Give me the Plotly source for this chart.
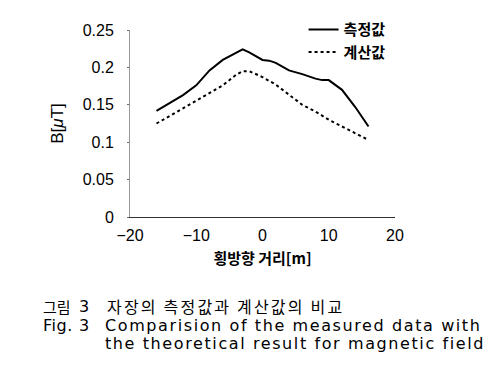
import plotly.graph_objects as go

x_meas = [-16, -12, -10, -8, -6, -4, -3, -2, 0, 1, 2, 4, 5, 6, 8, 9, 10, 12, 14, 16]
y_meas = [0.142, 0.163, 0.176, 0.196, 0.210, 0.219, 0.224, 0.220, 0.210, 0.209, 0.206,
          0.196, 0.194, 0.191, 0.185, 0.183, 0.183, 0.170, 0.147, 0.121]
x_calc = [-16, -12, -10, -8, -6, -4, -3, -2, 0, 2, 4, 6, 8, 10, 12, 14, 16]
y_calc = [0.125, 0.145, 0.156, 0.165, 0.176, 0.190, 0.195, 0.195, 0.187, 0.177, 0.163,
          0.150, 0.141, 0.130, 0.121, 0.112, 0.103]
x_ticks = [-20, -10, 0, 10, 20]
y_ticks = [0, 0.05, 0.1, 0.15, 0.2, 0.25]
y_tick_labels = ["0", "0.05", "0.1", "0.15", "0.2", "0.25"]

KFONT = "Noto Sans CJK KR"
AFONT = "Liberation Sans, Arial"
CFONT = "DejaVu Sans"

OFF = 8  # browser body margin
FW, FH = 502 - OFF, 377 - OFF

fig = go.Figure()
fig.add_trace(go.Scatter(x=x_meas, y=y_meas, mode="lines", name="측정값",
                         line=dict(color="black", width=2)))
fig.add_trace(go.Scatter(x=x_calc, y=y_calc, mode="lines", name="계산값",
                         line=dict(color="black", width=2, dash="dot")))

L, T, W, H = 130 - OFF, 30 - OFF, 265, 187
fig.update_layout(
    width=FW, height=FH,
    margin=dict(l=L, r=FW - L - W, t=T, b=FH - T - H, pad=0, autoexpand=False),
    paper_bgcolor="white", plot_bgcolor="white",
    showlegend=True,
    legend=dict(x=0.655, y=1.09, xanchor="left", yanchor="top",
                font=dict(family=KFONT, size=15, color="black", weight="bold"),
                bgcolor="rgba(0,0,0,0)", itemwidth=30, tracegroupgap=0),
    font=dict(family=AFONT, size=16, color="black"),
)
fig.update_xaxes(range=[-20, 20], tickvals=x_ticks, showgrid=False, zeroline=False,
                 showline=True, linecolor="#333", linewidth=1,
                 ticks="", tickfont=dict(size=16), ticklabelstandoff=4,
                 title=dict(text="횡방향 거리[m]",
                            font=dict(family=KFONT, size=15, weight="bold"), standoff=10))
fig.update_yaxes(range=[0, 0.25], tickvals=y_ticks, ticktext=y_tick_labels, showgrid=False,
                 zeroline=False, showline=True, linecolor="#999", linewidth=1,
                 ticks="outside", ticklen=2, tickcolor="#666", tickfont=dict(size=16),
                 ticklabelstandoff=10,
                 title=dict(text="B[<i>μ</i>T]", font=dict(size=17), standoff=14))

def px(xp):
    return (xp - OFF - L) / W

def py(yp):
    return (T + H - (yp - OFF)) / H

def spaced(t, ls):
    return '<span style="letter-spacing:%spx">%s</span>' % (ls, t)

cap = [
    (41, 306, "그림", KFONT, 15, 0), (77, 306, "3", CFONT, 16, 0),
    (105, 306, "자장의 측정값과 계산값의 비교", KFONT, 16, 2.2),
    (41, 325, "Fig.", CFONT, 16, 0.5), (77, 325, "3", CFONT, 16, 0),
    (103, 325, "Comparision of the measured data with", CFONT, 16, 1.6),
    (103, 343, "the theoretical result for magnetic field", CFONT, 16, 1.6),
]
for xx, yy, t, f, s, ls in cap:
    fig.add_annotation(x=px(xx), y=py(yy), xref="paper", yref="paper",
                       text=spaced(t, ls) if ls else t,
                       showarrow=False, xanchor="left", yanchor="middle",
                       font=dict(family=f, size=s, color="black"))

fig.write_html("out.html")
